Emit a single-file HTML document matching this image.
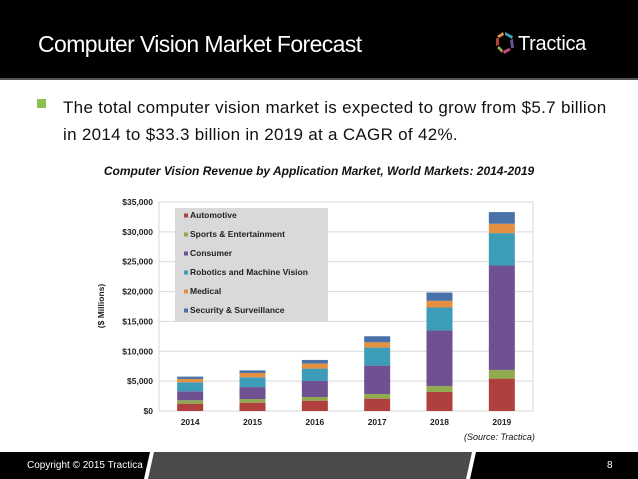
<!DOCTYPE html>
<html><head><meta charset="utf-8"><style>
body{margin:0;width:638px;height:479px;overflow:hidden;background:#fff;font-family:"Liberation Sans",sans-serif;position:relative}
.abs{position:absolute}
</style></head><body>
<div class="abs" style="left:0;top:0;width:638px;height:78px;background:#000"></div>
<div class="abs" style="left:0;top:78px;width:638px;height:2px;background:#555"></div>
<div class="abs" style="left:38px;top:31px;color:#fff;font-size:23px;letter-spacing:-0.6px">Computer Vision Market Forecast</div>
<svg class="abs" style="left:494px;top:30px" width="22" height="26" viewBox="0 0 22 26">
<path d="M11 2 L19 6 L18 9 L11 5Z" fill="#3d9db8"/><path d="M19 9 L20 18 L17 18 L16 10Z" fill="#6f5090"/><path d="M17 20 L10 24 L9 21 L15 18Z" fill="#d04a7a"/><path d="M8 23 L3 18 L5 16 L9 20Z" fill="#8faa4f"/><path d="M2 16 L2 8 L5 8 L5 15Z" fill="#b0403d"/><path d="M3 6 L9 2 L10 5 L5 8Z" fill="#e39040"/></svg>
<div class="abs" style="left:518px;top:33px;color:#fff;font-size:20px;letter-spacing:-0.3px">Tractica</div>
<div class="abs" style="left:37px;top:99px;width:9px;height:9px;background:#8fc04f"></div>
<div class="abs" style="left:63px;top:94px;font-size:17px;line-height:27px;color:#111;width:570px;letter-spacing:0.3px">The total computer vision market is expected to grow from $5.7 billion<br>in 2014 to $33.3 billion in 2019 at a CAGR of 42%.</div>
<div class="abs" style="left:0;width:638px;top:164px;text-align:center;font-size:12px;font-weight:bold;font-style:italic;color:#111">Computer Vision Revenue by Application Market, World Markets: 2014-2019</div>
<div class="abs" style="left:464px;top:432px;font-size:9px;font-style:italic;color:#111">(Source: Tractica)</div>
<svg class="abs" style="left:0;top:0" width="638" height="479" id="chart"></svg>
<svg class="abs" style="left:0;top:452px" width="638" height="27">
<rect width="638" height="27" fill="#000"/><polygon points="152,0 472,0 466,27 146,27" fill="#4a4a4a"/>
<polygon points="150,0 154,0 148,27 144,27" fill="#fff"/><polygon points="472,0 476,0 470,27 466,27" fill="#fff"/></svg>
<div class="abs" style="left:27px;top:460px;color:#fff;font-size:10px">Copyright © 2015 Tractica</div>
<div class="abs" style="left:607px;top:460px;color:#fff;font-size:10px">8</div>
<script>
const years=["2014","2015","2016","2017","2018","2019"];
const seriesNames=["Automotive","Sports & Entertainment","Consumer","Robotics and Machine Vision","Medical","Security & Surveillance"];
const automotive=[1230,1400,1730,2070,3190,5420];
const sports=[560,600,620,780,1000,1460];
const consumer=[1510,2000,2680,4750,9280,17490];
const robotics=[1500,1650,2070,3020,3860,5420];
const medical=[570,720,840,890,1120,1570];
const security=[390,430,610,1010,1390,1950];
const yTicks=[0,5000,10000,15000,20000,25000,30000,35000];
const colors=["#b0403d","#8faa4f","#6f5090","#3d9db8","#e39040","#4a72a8"];
const series=[automotive,sports,consumer,robotics,medical,security];
const svg=document.getElementById('chart');const NS="http://www.w3.org/2000/svg";
const x0=159,x1=533,yB=411,yT=202,yMax=35000;
const y=v=>yB-(v/yMax)*(yB-yT);
const band=(x1-x0)/years.length;
const xc=i=>x0+band*(i+0.5);
function mk(t,a){const e=document.createElementNS(NS,t);for(const k in a)e.setAttribute(k,a[k]);svg.appendChild(e);return e;}
yTicks.forEach(v=>{
 const l=mk('line',{x1:x0,x2:x1,y1:y(v),y2:y(v),stroke:'#d9d9d9','stroke-width':1});
 
 
 const t=mk('text',{x:x0-6,y:y(v)+3,'text-anchor':'end','font-size':8.5,'font-weight':'bold','font-family':'Liberation Sans, sans-serif',fill:'#222'});
 t.textContent='$'+v.toLocaleString('en-US');
 
 
});
const r=mk('rect',{x:x0,y:yT,width:x1-x0,height:yB-yT,fill:'none',stroke:'#d9d9d9'});


const yt=mk('text',{transform:'translate(104,306) rotate(-90)','text-anchor':'middle','font-size':8.5,'font-weight':'bold','font-family':'Liberation Sans, sans-serif',fill:'#222'});
yt.textContent='($ Millions)';


const lg=mk('rect',{x:175,y:208,width:153,height:114,fill:'#d9d9d9'});


years.forEach((yr,i)=>{
 let acc=0;const bw=26;
 series.forEach((s,k)=>{
  const b=mk('rect',{x:xc(i)-bw/2,y:y(acc+s[i]),width:bw,height:y(acc)-y(acc+s[i]),fill:colors[k]});
  
  
  acc+=s[i];
 });
 const t=mk('text',{x:xc(i),y:yB+14,'text-anchor':'middle','font-size':8.5,'font-weight':'bold','font-family':'Liberation Sans, sans-serif',fill:'#222'});
 t.textContent=yr;
 
 
});
seriesNames.forEach((n,k)=>{
 const yy=217+k*19;
 const s=mk('rect',{x:184,y:yy-3.5,width:4,height:4,fill:colors[k]});
 
 
 const t=mk('text',{x:190,y:yy+1,'font-size':8.5,'font-weight':'bold','font-family':'Liberation Sans, sans-serif',fill:'#222'});
 t.textContent=n;
 
 
});
</script>
</body></html>
